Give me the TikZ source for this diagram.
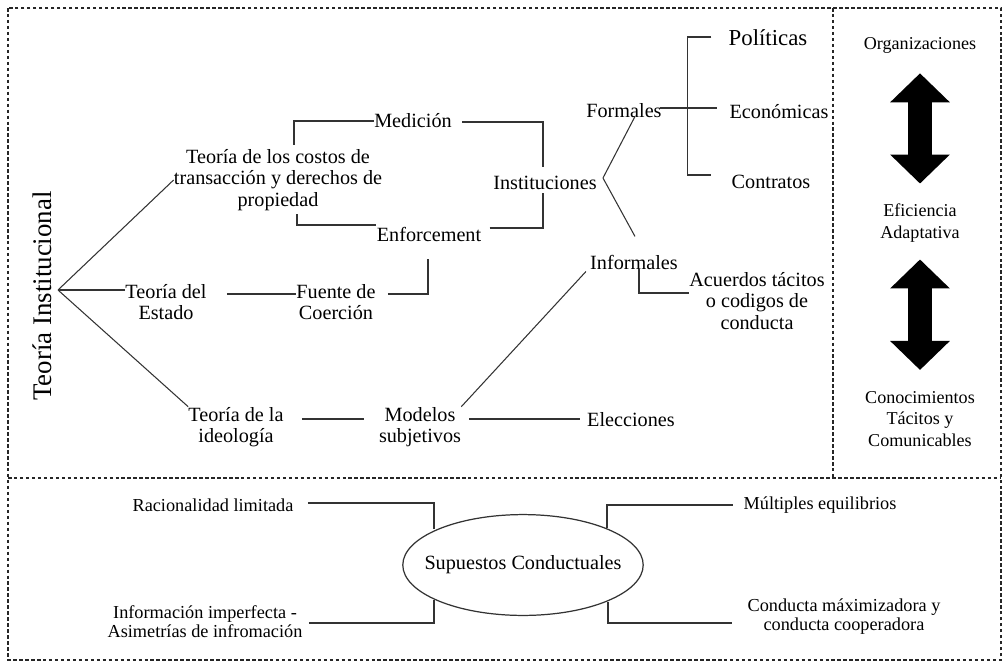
\documentclass[tikz,border=0pt]{standalone}
\usepackage{fontspec}
\setmainfont{Liberation Serif}
\usetikzlibrary{calc,shapes.geometric,arrows.meta}

\begin{document}
\begin{tikzpicture}[x=0.02cm, y=-0.02cm,
    txt/.style={align=center, inner sep=0pt, font=\fontsize{11.5}{12.3}\selectfont},
    sidetxt/.style={align=center, inner sep=0pt, font=\fontsize{10.3}{12.3}\selectfont},
    lowtxt/.style={align=center, inner sep=0pt, font=\fontsize{10.4}{10.9}\selectfont},
    link/.style={draw=black!80, line width=0.6pt},
    frame/.style={draw=black!85, line width=0.6pt, dash pattern=on 2pt off 1.4pt},
    bigarrow/.style={line width=13.7pt, {Triangle[length=16.5pt, width=33pt]}-{Triangle[length=16.5pt, width=33pt]}}]

    \useasboundingbox (0, 0) rectangle (1005, 664);

    %%%%% FRAME %%%%%
    \draw[frame] (8, 8) rectangle (1001, 660);
    \draw[frame] (8, 478) -- (1001, 478);
    \draw[frame] (833, 8) -- (833, 478);

    %%%%% TOP PART %%%%%
    \node[txt, rotate=90, font=\fontsize{15.3}{18}\selectfont] (title) at (42, 296) {Teoría Institucional};
    \coordinate (root) at (58, 290);

    \node[txt] (tct) at (278, 180) {Teoría de los costos de\\transacción y derechos de\\propiedad};
    \node[txt] (ted) at (166, 302) {Teoría del\\Estado};
    \node[txt] (tid) at (236, 427) {Teoría de la\\ideología};

    \node[txt] (med) at (413, 121) {Medición};
    \node[txt] (enf) at (429, 234) {Enforcement};
    \node[txt] (fue) at (336, 302) {Fuente de\\Coerción};
    \node[txt] (mod) at (420, 427) {Modelos\\subjetivos};

    \node[txt] (ins) at (545, 183) {Instituciones};
    \node[txt] (for) at (624, 111) {Formales};
    \node[txt] (inf) at (634, 262) {Informales};
    \node[txt] (ele) at (631, 420) {Elecciones};

    \node[txt, font=\fontsize{13}{14}\selectfont] (pol) at (768, 38) {Políticas};
    \node[txt] (eco) at (779, 112) {Económicas};
    \node[txt] (con) at (771, 182) {Contratos};
    \node[txt] (acu) at (757, 301) {Acuerdos tácitos\\o codigos de\\conducta};

    \draw[link] (root) -- (tct.west);
    \draw[link] (root) -- (root -| ted.west);
    \draw[link] (root) -- (tid.north west);

    \draw[link] ($(tct.north)+(16, -4)$) |- (med.west);
    \draw[link] ($(med.east)+(10, 1)$) -| ($(ins.north)+(-2, -9)$);
    \draw[link] ($(tct.south)+(19, 3)$) |- ($(enf.west)+(0, -9)$);
    \draw[link] ($(enf.east)+(8, -6)$) -| ($(ins.south)+(-2, 3)$);
    \draw[link] ($(ted.east)+(20, -8)$) -- ($(fue.west)+(0, -8)$);
    \draw[link] ($(fue.east)+(12, -8)$) -| ($(enf.south)+(-1, 17)$);

    \draw[link] ($(ins.east)+(6, -5)$) -- ($(for.south)+(11, -2)$);
    \draw[link] ($(ins.east)+(6, -5)$) -- ($(inf.north)+(1, -18)$);
    \draw[link] ($(for.east)+(-2, -3)$) -- ($(eco.west)+(-12, -4)$);
    \coordinate (brk) at ($(con.west)+(-44, -7)$);
    \draw[link] ($(pol.west)+(-17, -1)$) -| (brk) -- ($(con.west)+(-20, -7)$);
    \draw[link] ($(inf.south)+(5, -1)$) |- ($(acu.west)+(0, -8)$);

    \draw[link] (mod.north east) -- ($(inf.south west)+(-4, 2)$);
    \draw[link] ($(tid.east)+(18, -8)$) -- ($(mod.west)+(-15, -8)$);
    \draw[link] ($(mod.east)+(8, -8)$) -- ($(ele.west)+(-7, -1)$);

    %%%%% RIGHT COLUMN %%%%%
    \node[sidetxt] (org) at (920, 45) {Organizaciones};
    \node[sidetxt] (efi) at (920, 223) {Eficiencia\\Adaptativa};
    \node[sidetxt] (cono) at (920, 419) {Conocimientos\\Tácitos y\\Comunicables};

    \draw[bigarrow] ($(org.south)+(0, 20)$) -- ($(efi.north)+(0, -20)$);
    \draw[bigarrow] ($(efi.south)+(0, 17)$) -- ($(cono.north)+(0, -21)$);

    %%%%% BOTTOM PART %%%%%
    \node[ellipse, draw=black!80, line width=0.7pt, inner xsep=-0.27cm, inner ysep=0.53cm,
          font=\fontsize{11.5}{12.3}\selectfont] (sup) at (523, 565) {Supuestos Conductuales};

    \node[lowtxt] (rac) at (213, 505) {Racionalidad limitada};
    \node[lowtxt] (info) at (205, 622) {Información imperfecta -\\Asimetrías de infromación};
    \node[lowtxt] (mul) at (820, 505) {Múltiples equilibrios};
    \node[lowtxt] (cmax) at (844, 617) {Conducta máximizadora y\\conducta cooperadora};

    \draw[link] ($(rac.east)+(14, -2)$) -| ($(sup.center)+(-89, -36)$);
    \draw[link] ($(info.east)+(6, 1)$) -| ($(sup.center)+(-89, 35)$);
    \draw[link] ($(sup.center)+(84, -37)$) |- ($(mul.west)+(-10, 0)$);
    \draw[link] ($(sup.center)+(85, 37)$) |- ($(cmax.west)+(-15, 6)$);

\end{tikzpicture}
\end{document}
